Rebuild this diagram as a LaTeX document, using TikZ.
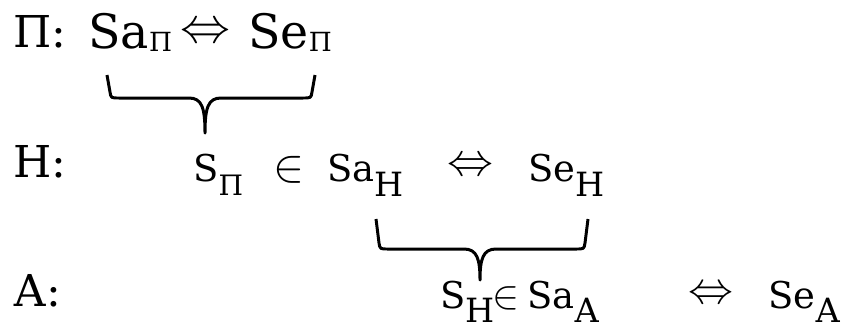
\documentclass[tikz,border=0pt]{standalone}
\usepackage{fontspec}
\setmainfont{DejaVu Serif}
\usetikzlibrary{calc}
% lowered index: size, drop, text
\newcommand{\low}[3]{\raisebox{-#2}{\fontsize{#1}{#1}\selectfont #3}}
% relation sign, set to a given width
\newcommand{\rel}[2]{\resizebox{#1}{!}{$#2$}}
% brace joining two terms: left x, right x, tip x, top y, bar y, tip y
\newcommand{\joinbrace}[6]{%
  \draw[brace line] (#1,#4) -- (#1+3,#5-6) .. controls (#1+4,#5) .. (#1+12,#5)
    -- (#3-16,#5) .. controls (#3-3,#5) and (#3,#5+10) .. (#3,#6)
    .. controls (#3,#5+10) and (#3+3,#5) .. (#3+16,#5)
    -- (#2-12,#5) .. controls (#2-4,#5) .. (#2-3,#5-6) -- (#2,#4);
}

\begin{document}
\begin{tikzpicture}[x=0.02cm, y=-0.02cm,
    every node/.style={inner sep=0pt, anchor=base west},
    lvl/.style={font=\fontsize{25pt}{25pt}\selectfont},
    top/.style={font=\fontsize{27pt}{27pt}\selectfont},
    row/.style={font=\fontsize{21pt}{21pt}\selectfont},
    brace line/.style={line width=1.7pt, line join=round}]
  \useasboundingbox (0,0) rectangle (854,329);

  % level labels
  \node[lvl] (lP) at (13,47)  {П:};
  \node[lvl] (lH) at (13,177) {Н:};
  \node[lvl] (lA) at (13,306) {А:};

  % first row
  \node[top] (saP) at (88,48)  {Sa\low{15pt}{2pt}{П}};
  \node (eqP) at (180,42) {\rel{1cm}{\Leftrightarrow}};
  \node[top] (seP) at (248,48) {Se\low{15pt}{2pt}{П}};

  % second row
  \node[row] (sP)  at (193,181) {S\low{16pt}{8pt}{П}};
  \node (inH) at (273,181) {\rel{0.62cm}{\in}};
  \node[row] (saH) at (327,181) {Sa\low{19pt}{9pt}{Н}};
  \node (eqH) at (447,175) {\rel{0.92cm}{\Leftrightarrow}};
  \node[row] (seH) at (528,181) {Se\low{19pt}{9pt}{Н}};

  % third row
  \node[row] (sH)  at (440,308) {S\low{19pt}{8pt}{Н}};
  \node (inA) at (492,308) {\rel{0.54cm}{\in}};
  \node[row] (saA) at (527,308) {Sa\low{19pt}{8pt}{А}};
  \node (eqA) at (688,303) {\rel{0.9cm}{\Leftrightarrow}};
  \node[row] (seA) at (768,308) {Se\low{19pt}{8pt}{А}};

  % braces
  \joinbrace{107}{315}{205}{75}{98}{133}
  \joinbrace{376}{588}{480}{219}{249}{280}
\end{tikzpicture}
\end{document}
